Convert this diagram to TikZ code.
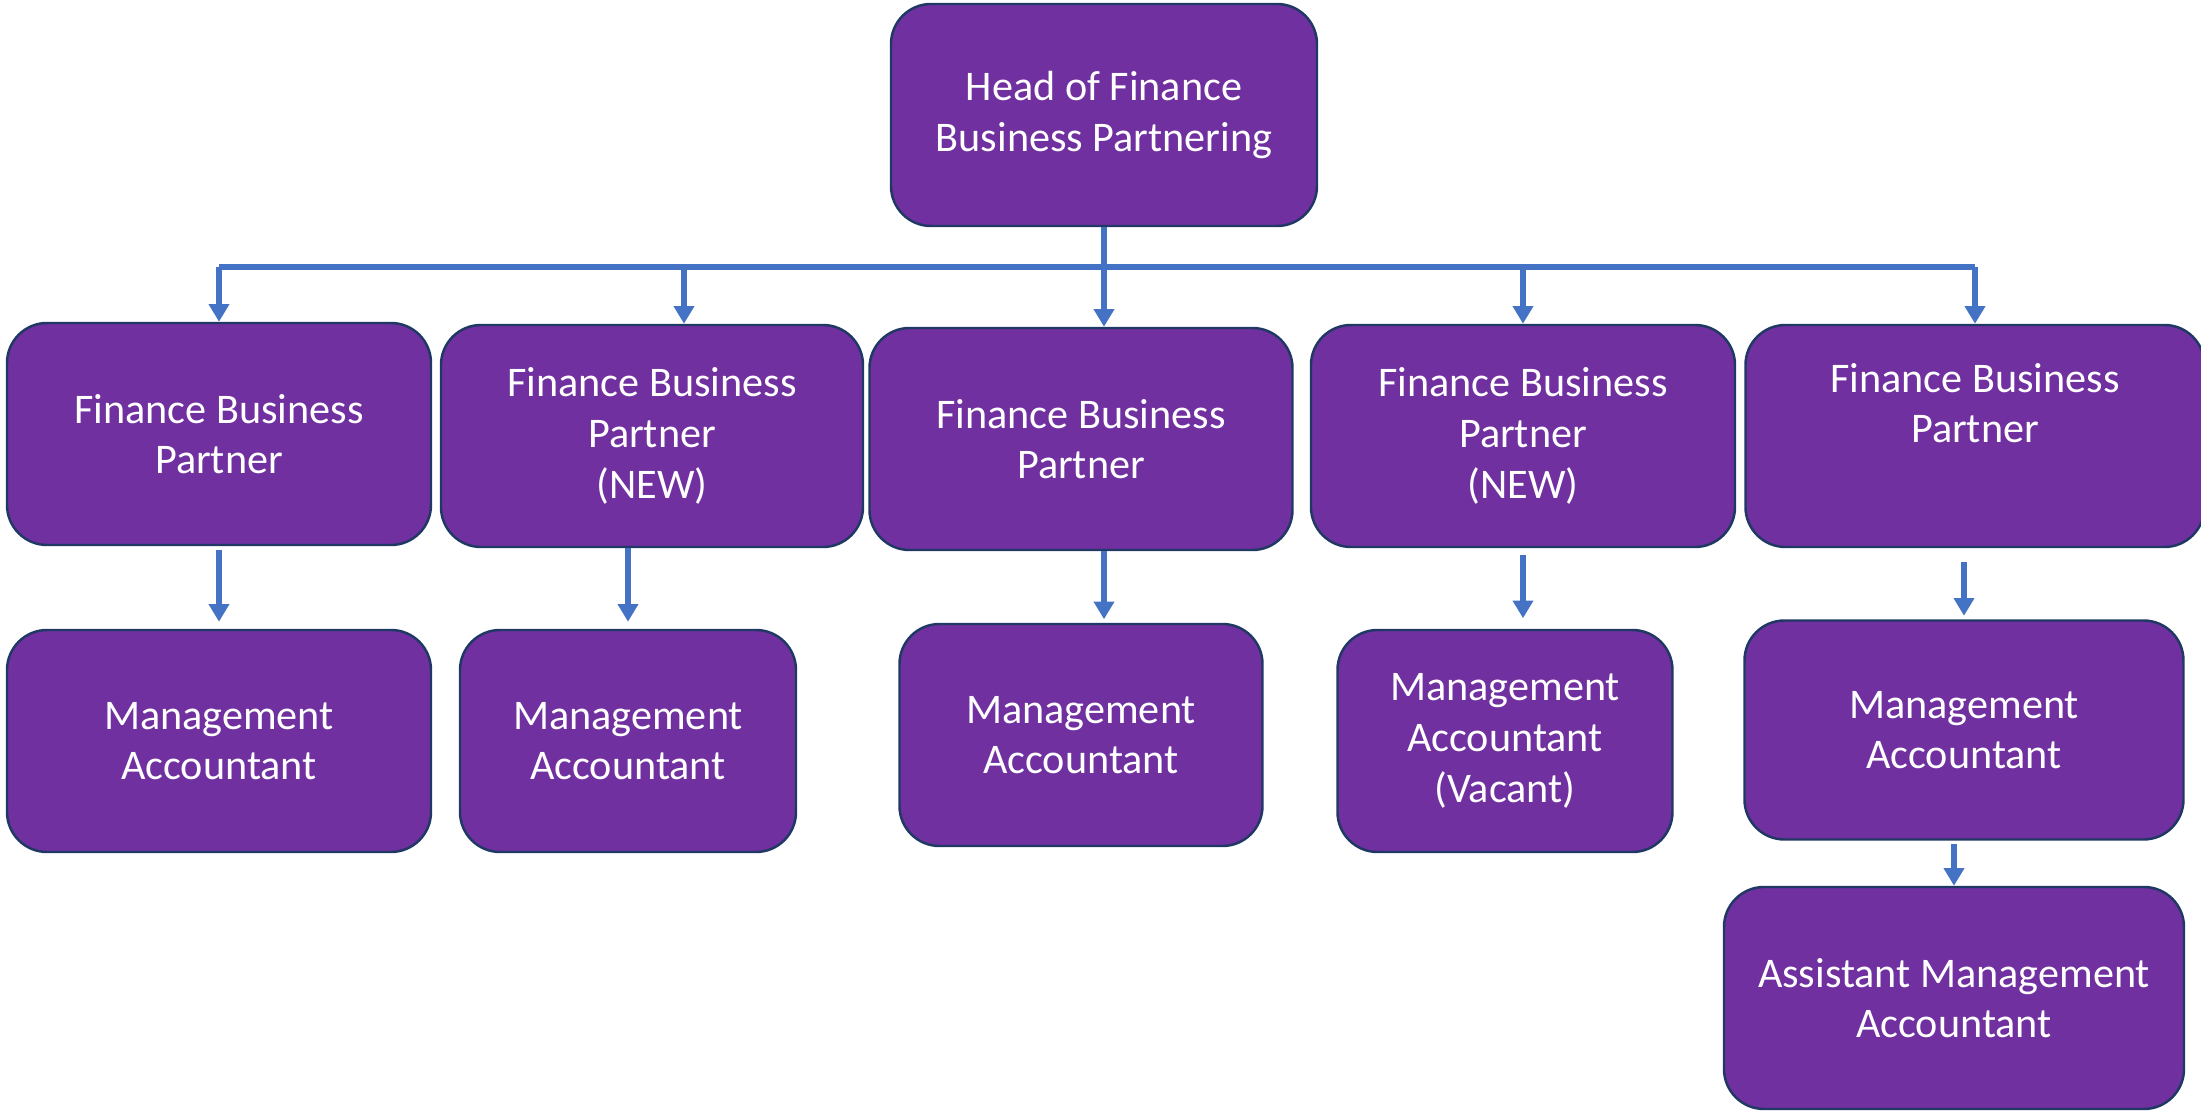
\documentclass[tikz,border=0pt]{standalone}
\usepackage{fontspec}
\setmainfont{Carlito}
\usepackage{tikz}
\usetikzlibrary{arrows.meta}

\definecolor{postfill}{HTML}{7030A0}
\definecolor{postline}{HTML}{203864}
\definecolor{linkblue}{HTML}{4472C4}

\begin{document}
\begin{tikzpicture}
\tikzset{post/.style = {shape=rectangle, rounded corners=0.4cm, draw=postline, line width=0.7pt, fill=postfill, text=white, align=center, inner sep=0pt, minimum height=2.22cm, font=\fontsize{12}{14.4}\selectfont}}
\tikzset{link/.style = {draw=linkblue, line width=1.5pt, -{Triangle[width=5.6pt,length=5pt]}}}
\useasboundingbox (0,0) rectangle (22.01,-11.12);
\node[post, minimum width=4.26cm](head) at (11.04, -1.15) {Head of Finance\\Business Partnering};
\node[post, minimum width=4.24cm](b1) at (2.19, -4.34) {Finance Business\\Partner};
\node[post, minimum width=4.22cm](b2) at (6.52, -4.36) {Finance Business\\Partner\\(NEW)};
\node[post, minimum width=4.23cm](b3) at (10.81, -4.39) {Finance Business\\Partner};
\node[post, minimum width=4.24cm](b4) at (15.23, -4.36) {Finance Business\\Partner\\(NEW)};
\node[post, minimum width=4.59cm](b5) at (19.75, -4.36) {Finance Business\\Partner\\\strut};
\node[post, minimum width=4.24cm](m1) at (2.19, -7.41) {Management\\Accountant};
\node[post, minimum width=3.36cm](m2) at (6.28, -7.41) {Management\\Accountant};
\node[post, minimum width=3.63cm](m3) at (10.81, -7.35) {Management\\Accountant};
\node[post, minimum width=3.35cm](m4) at (15.05, -7.41) {Management\\Accountant\\(Vacant)};
\node[post, minimum width=4.39cm, minimum height=2.19cm](m5) at (19.64, -7.30) {Management\\Accountant};
\node[post, minimum width=4.60cm](ama) at (19.54, -9.98) {Assistant Management\\Accountant};
\coordinate (bus) at (0, -2.67);
\draw[link, -] (b1.north |- bus) -- (b5.north |- bus);
\draw[link] (b1.north |- bus) -- (b1.north);
\draw[link] ([xshift=3.2mm]b2.north |- bus) -- ([xshift=3.2mm]b2.north);
\draw[link] (head.south) -- (head.south |- b3.north);
\draw[link] (b4.north |- bus) -- (b4.north);
\draw[link] (b5.north |- bus) -- (b5.north);
\draw[link, shorten <=1pt, shorten >=2pt] (b1.south) -- (m1.north);
\draw[link, shorten >=2pt] (m2.north |- b2.south) -- (m2.north);
\draw[link, shorten >=1pt] (head.south |- b3.south) -- (head.south |- m3.north);
\draw[link, shorten <=2pt, shorten >=3pt] (b4.south) -- (b4.south |- m4.north);
\draw[link, shorten <=4pt, shorten >=1pt] (m5.north |- b5.south) -- (m5.north);
\draw[link, shorten <=1pt] (ama.north |- m5.south) -- (ama.north);
\end{tikzpicture}
\end{document}
